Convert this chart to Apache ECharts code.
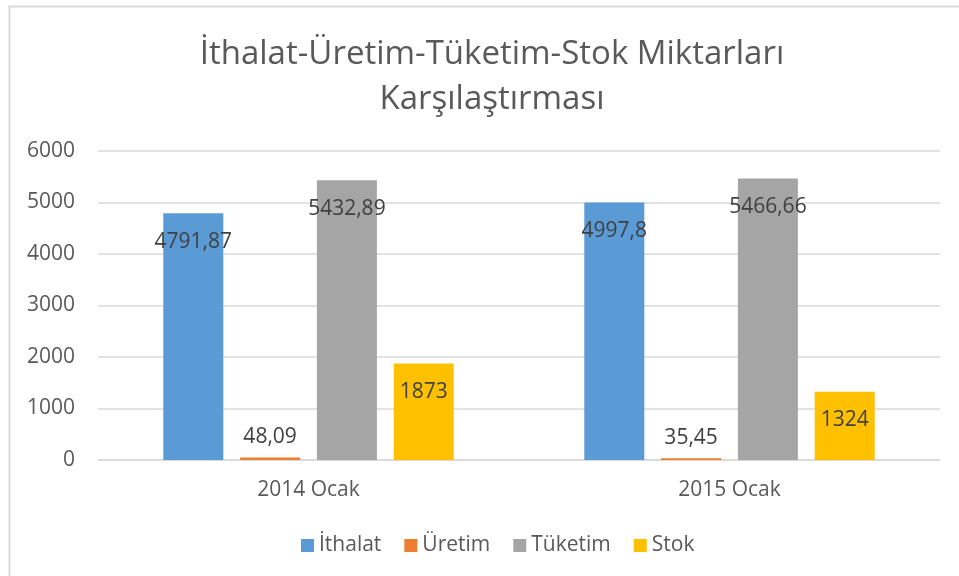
<!DOCTYPE html>
<html>
<head>
<meta charset="utf-8">
<script src="https://cdn.jsdelivr.net/npm/echarts@6/dist/echarts.min.js"></script>
<style>
  html, body { margin: 0; padding: 0; background: #fff; }
  #chart { width: 959px; height: 576px; }
</style>
</head>
<body>
<div id="chart"></div>
<script>
var categories = ['2014 Ocak', '2015 Ocak']
var seriesNames = ['İthalat', 'Üretim', 'Tüketim', 'Stok']
var ithalat = [4791.87, 4997.8]
var uretim = [48.09, 35.45]
var tuketim = [5432.89, 5466.66]
var stok = [1873, 1324]
var yTicks = [0, 1000, 2000, 3000, 4000, 5000, 6000]

var colors = ['#5B9BD5', '#ED7D31', '#A5A5A5', '#FFC000']
var font = 'Open Sans'

function commaFmt(p) {
  return String(p.value).replace('.', ',')
}

function makeSeries(name, data, color, outside) {
  return {
    name: name,
    type: 'bar',
    data: data,
    barWidth: 60,
    barGap: '28%',
    itemStyle: { color: color },
    label: {
      show: true,
      position: outside ? 'top' : 'insideTop',
      distance: outside ? 10 : 18,
      formatter: commaFmt,
      color: '#404040',
      fontFamily: font,
      fontSize: 21
    }
  }
}

var chart = echarts.init(document.getElementById('chart'))
chart.setOption({
  animation: false,
  backgroundColor: '#fff',
  graphic: [{
    type: 'rect',
    shape: { x: 9.5, y: 6.5, width: 1200, height: 1200 },
    style: { fill: 'none', stroke: '#d9d9d9', lineWidth: 2 },
    silent: true
  }],
  title: {
    text: 'İthalat-Üretim-Tüketim-Stok Miktarları\nKarşılaştırması',
    left: 487,
    textAlign: 'center',
    top: 27,
    textStyle: {
      fontFamily: font,
      fontSize: 33,
      fontWeight: 'normal',
      color: '#595959',
      lineHeight: 45
    }
  },
  legend: {
    bottom: 15,
    left: 296,
    itemWidth: 13,
    itemHeight: 13,
    itemGap: 23,
    icon: 'rect',
    textStyle: { fontFamily: font, fontSize: 21, color: '#595959' },
    data: seriesNames
  },
  grid: { left: 98, right: 19, top: 151, bottom: 116, containLabel: false },
  xAxis: {
    type: 'category',
    data: categories,
    axisLine: { lineStyle: { color: '#d9d9d9', width: 1.5 } },
    axisTick: { show: false },
    axisLabel: { fontFamily: font, fontSize: 21, color: '#595959', margin: 20 }
  },
  yAxis: {
    type: 'value',
    min: yTicks[0],
    max: yTicks[yTicks.length - 1],
    interval: 1000,
    axisLine: { show: false },
    axisTick: { show: false },
    splitLine: { lineStyle: { color: '#d9d9d9', width: 1.5 } },
    axisLabel: {
      fontFamily: font, fontSize: 21, color: '#595959', margin: 23,
      formatter: function (v) { return String(v) }
    }
  },
  series: [
    makeSeries(seriesNames[0], ithalat, colors[0], false),
    makeSeries(seriesNames[1], uretim, colors[1], true),
    makeSeries(seriesNames[2], tuketim, colors[2], false),
    makeSeries(seriesNames[3], stok, colors[3], false)
  ]
})
</script>
</body>
</html>
